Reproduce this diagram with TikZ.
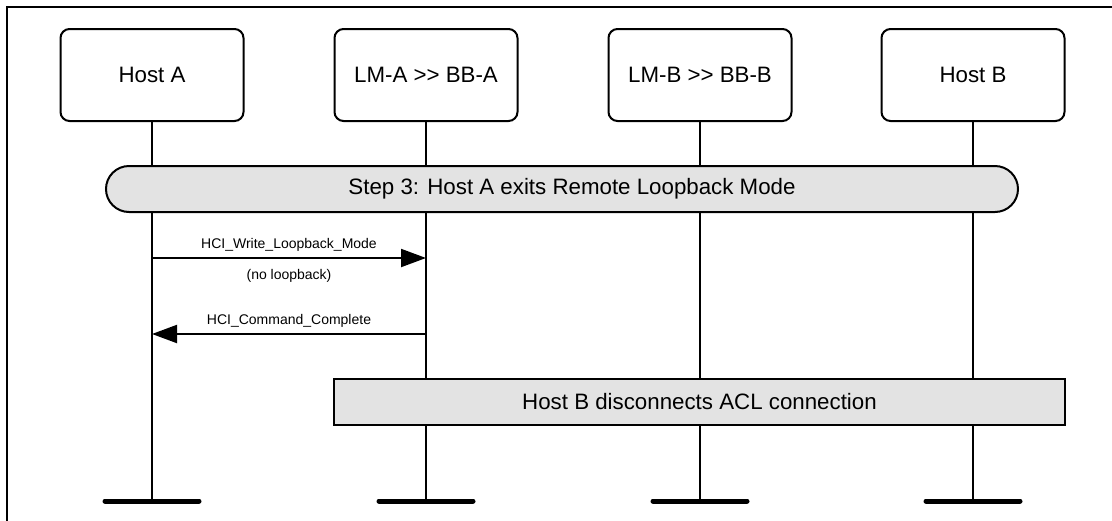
\documentclass[tikz,border=0pt]{standalone}
\usepackage{fontspec}
\setmainfont{Liberation Sans}
\usetikzlibrary{arrows.meta}
\begin{document}
\begin{tikzpicture}[x=1pt,y=-1pt,
  entity/.style={draw, line width=2pt, rounded corners=9pt, minimum width=183pt, minimum height=92pt, font=\fontsize{22.3}{26}\selectfont, inner sep=0pt},
  lifeline/.style={line width=2pt},
  endbar/.style={line width=5pt, line cap=round},
  stepbar/.style={draw, line width=2pt, fill=black!11, rounded corners=23pt, minimum width=912pt, minimum height=46pt, font=\fontsize{22.3}{26}\selectfont, inner sep=0pt},
  actbox/.style={draw, line width=2pt, fill=black!11, minimum width=731pt, minimum height=46pt, font=\fontsize{22.3}{26}\selectfont, inner sep=0pt},
  msg/.style={line width=2pt, -{Triangle[length=25pt,width=18pt]}},
  lbl/.style={font=\fontsize{14}{16}\selectfont, inner sep=0pt}]
\useasboundingbox (0,0) rectangle (1112,520);
\clip (0,0) rectangle (1112,520);
\draw[line width=2.2pt] (7,530) -- (7,7) -- (1120,7);
% entities
\node[entity] (hostA) at (152,75) {Host A};
\node[entity] (lmA) at (426,75) {LM-A {>}{>} BB-A};
\node[entity] (lmB) at (700,75) {LM-B {>}{>} BB-B};
\node[entity] (hostB) at (973,75) {Host B};
% lifeline ends
\coordinate (eA) at (152,501);
\coordinate (eLA) at (426,501);
\coordinate (eLB) at (700,501);
\coordinate (eB) at (973,501);
\draw[lifeline] (hostA.south) -- (eA);
\draw[lifeline] (lmA.south) -- (eLA);
\draw[lifeline] (lmB.south) -- (eLB);
\draw[lifeline] (hostB.south) -- (eB);
\draw[endbar] ([xshift=-47pt]eA) -- ([xshift=47pt]eA);
\draw[endbar] ([xshift=-47pt]eLA) -- ([xshift=47pt]eLA);
\draw[endbar] ([xshift=-47pt]eLB) -- ([xshift=47pt]eLB);
\draw[endbar] ([xshift=-47pt]eB) -- ([xshift=47pt]eB);
% step bar
\node[stepbar] (step) at (562,189) {};
\node[font=\fontsize{22.3}{26}\selectfont, inner sep=0pt] (steptext) at (572,189) {Step 3: Host A exits Remote Loopback Mode};
% messages
\coordinate (m1a) at (152,258);
\coordinate (m1b) at (426,258);
\draw[msg] (m1a) -- (m1b);
\node[lbl] (l1) at (289,245) {HCI\_Write\_Loopback\_Mode};
\node[lbl] (l1b) at (289,276) {(no loopback)};
\coordinate (m2a) at (426,334);
\coordinate (m2b) at (152,334);
\draw[msg] (m2a) -- (m2b);
\node[lbl] (l2) at (289,321) {HCI\_Command\_Complete};
% activity box
\node[actbox] (disc) at (699.5,402) {Host B disconnects ACL connection};
\end{tikzpicture}
\end{document}
